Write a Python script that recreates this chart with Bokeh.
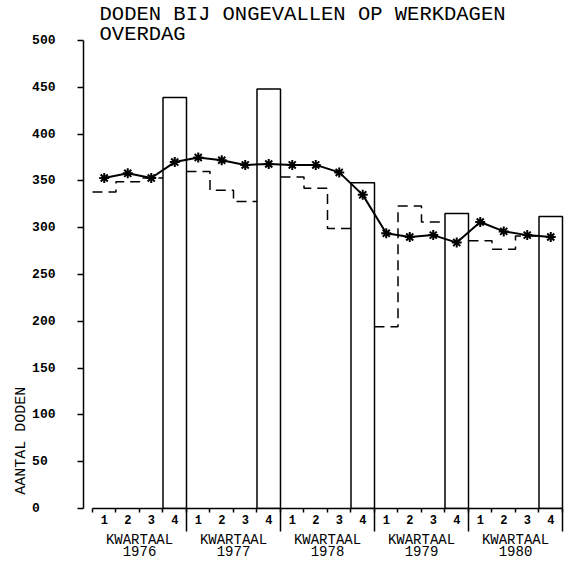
import math
from bokeh.plotting import figure
from bokeh.models import Range1d, LinearAxis, FixedTicker, Label
from bokeh.embed import file_html
from bokeh.resources import INLINE

# ---- data ----
years = ["1976", "1977", "1978", "1979", "1980"]
quarter_labels = ["1", "2", "3", "4"]
q1 = [338, 360, 354, 194, 286]
q2 = [349, 340, 342, 323, 277]
q3 = [353, 328, 299, 306, 291]
q4 = [439, 448, 348, 315, 312]
moving_avg = [353, 358, 353, 370,
              375, 372, 367, 368,
              367, 367, 359, 335,
              294, 290, 292, 284,
              306, 296, 292, 290]
y_ticks = [0, 50, 100, 150, 200, 250, 300, 350, 400, 450, 500]
title_lines = ["DODEN BIJ ONGEVALLEN OP WERKDAGEN", "OVERDAG"]
y_title = "AANTAL DODEN"
group_label = "KWARTAAL"

MONO = "Liberation Mono"
n = len(years)
nq = 4 * n

p = figure(width=565, height=562,
           x_range=Range1d(-0.383, 20.128), y_range=Range1d(0, 542.6),
           output_backend="svg", toolbar_location=None,
           x_axis_type=None, y_axis_type=None,
           min_border_left=83, min_border_right=0,
           min_border_top=0, min_border_bottom=53)
p.outline_line_color = None
p.background_fill_color = "white"

# ---- y axis (labels padded on the right so they line up on the left) ----
ylab_width = max(len(str(t)) for t in y_ticks)
yaxis = LinearAxis(ticker=FixedTicker(ticks=y_ticks), bounds=(0, 500),
                   major_label_overrides={t: str(t).ljust(ylab_width, "\u00a0")
                                          for t in y_ticks},
                   major_tick_out=6, major_tick_in=0,
                   minor_tick_out=0, minor_tick_in=0,
                   axis_line_width=1.5, major_tick_line_width=1.5,
                   major_label_standoff=22,
                   major_label_text_font=MONO,
                   major_label_text_font_size="13px",
                   major_label_text_font_style="bold",
                   major_label_text_color="black")
p.add_layout(yaxis, "left")

# y title carried by a second (tick-less) axis; text ends at the tick
ytitle_pos = 130
ytitle_axis = LinearAxis(ticker=FixedTicker(ticks=[ytitle_pos]),
                         major_label_overrides={ytitle_pos: y_title},
                         major_label_orientation=math.pi / 2,
                         major_tick_out=0, major_tick_in=0,
                         minor_tick_out=0, minor_tick_in=0,
                         axis_line_color=None,
                         major_label_standoff=8,
                         major_label_text_font=MONO,
                         major_label_text_font_size="15px",
                         major_label_text_color="black")
p.add_layout(ytitle_axis, "left")

# ---- x axis: quarter numbers + quarter boundary ticks ----
q_centers = [k + 0.5 for k in range(nq)]
xaxis = LinearAxis(ticker=FixedTicker(ticks=q_centers,
                                      minor_ticks=list(range(nq + 1))),
                   bounds=(0, nq),
                   major_label_overrides={k + 0.5: quarter_labels[k % 4]
                                          for k in range(nq)},
                   major_tick_out=0, major_tick_in=0,
                   minor_tick_out=4, minor_tick_in=0,
                   axis_line_width=1.5, minor_tick_line_width=1.5,
                   major_label_standoff=2,
                   major_label_text_line_height=1.0,
                   major_label_text_font=MONO,
                   major_label_text_font_size="12px",
                   major_label_text_font_style="bold",
                   major_label_text_color="black")
p.add_layout(xaxis, "below")

# second axis: "KWARTAAL" / year, plus the long year-boundary ticks
y_centers = [4 * i + 2 for i in range(n)]
kw_axis = LinearAxis(ticker=FixedTicker(ticks=y_centers,
                                        minor_ticks=[4 * (i + 1) for i in range(n)]),
                     bounds=(0, nq),
                     major_label_overrides={c: group_label + "\n" + years[i]
                                            for i, c in enumerate(y_centers)},
                     major_tick_out=0, major_tick_in=0,
                     minor_tick_in=18, minor_tick_out=5,
                     minor_tick_line_width=1.5,
                     axis_line_color=None,
                     major_label_standoff=0,
                     major_label_text_line_height=0.75,
                     major_label_text_font=MONO,
                     major_label_text_font_size="14px",
                     major_label_text_color="black")
p.add_layout(kw_axis, "below")

# ---- Q4 bars ----
p.vbar(x=[4 * i + 3.5 for i in range(n)], top=q4, bottom=0, width=1,
       fill_color=None, line_color="black", line_width=1.5)

# ---- dashed quarterly steps (Q1-Q3) ----
for i in range(n):
    xs = [4 * i, 4 * i + 1, 4 * i + 2, 4 * i + 3]
    ys = [q1[i], q2[i], q3[i], q3[i]]
    p.step(xs, ys, mode="after", line_dash="10 6", line_width=1.5,
           line_color="black")

# ---- moving average line with asterisks ----
p.line(q_centers, moving_avg, line_width=2, line_color="black")
p.scatter(q_centers, moving_avg, marker="asterisk", size=10, line_width=2,
          line_color="black")

# ---- title (inside the frame's upper margin) ----
p.add_layout(Label(x=0.30, y=527.2, text=title_lines[0],
                   text_align="left", text_baseline="middle",
                   text_font=MONO, text_font_size="20.5px", text_color="black"))
p.add_layout(Label(x=0.30, y=506.4, text=title_lines[1],
                   text_align="left", text_baseline="middle",
                   text_font=MONO, text_font_size="20.5px", text_color="black"))

open("out.html", "w").write(file_html(p, INLINE))
